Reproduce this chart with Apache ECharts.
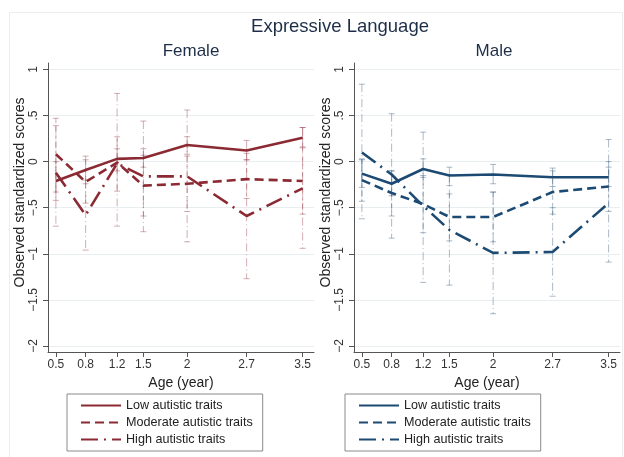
<!DOCTYPE html>
<html>
<head>
<meta charset="utf-8">
<script src="https://cdn.jsdelivr.net/npm/echarts@6/dist/echarts.min.js"></script>
<style>
  html, body { margin: 0; padding: 0; background: #fff; }
  #chart { width: 624px; height: 457px; }
</style>
</head>
<body>
<div id="chart"></div>
<script>
// x positions of the measurement waves and the labels printed under them
const ageLabels = ['0.5', '0.8', '1.2', '1.5', '2', '2.7', '3.5'];
const ageX = [0.5, 0.84, 1.2, 1.5, 2, 2.68, 3.32];
const yTicks = [-2, -1.5, -1, -0.5, 0, 0.5, 1];
const traitNames = ['Low autistic traits', 'Moderate autistic traits', 'High autistic traits'];

// Female: means and 95% CI
const femaleLow = [-0.21, -0.09, 0.03, 0.04, 0.18, 0.12, 0.26];
const femaleMod = [0.08, -0.22, -0.01, -0.26, -0.24, -0.19, -0.21];
const femaleHigh = [-0.12, -0.58, -0.02, -0.16, -0.16, -0.59, -0.29];
const femaleLowLo = [-0.42, -0.24, -0.10, -0.06, 0.08, 0.02, 0.16];
const femaleLowHi = [0.00, 0.06, 0.14, 0.14, 0.27, 0.23, 0.37];
const femaleModLo = [-0.33, -0.45, -0.32, -0.59, -0.54, -0.40, -0.57];
const femaleModHi = [0.47, 0.02, 0.27, 0.07, 0.06, 0.02, 0.15];
const femaleHighLo = [-0.70, -0.96, -0.70, -0.76, -0.87, -1.27, -0.94];
const femaleHighHi = [0.39, -0.20, 0.74, 0.44, 0.56, 0.09, 0.37];

// Male: means and 95% CI
const maleLow = [-0.13, -0.24, -0.08, -0.15, -0.14, -0.17, -0.17];
const maleMod = [-0.20, -0.34, -0.46, -0.60, -0.60, -0.33, -0.27];
const maleHigh = [0.10, -0.14, -0.48, -0.74, -0.99, -0.98, -0.45];
const maleLowLo = [-0.28, -0.37, -0.17, -0.26, -0.24, -0.27, -0.27];
const maleLowHi = [0.02, -0.10, 0.03, -0.06, -0.03, -0.07, -0.06];
const maleModLo = [-0.43, -0.59, -0.77, -0.86, -0.87, -0.57, -0.54];
const maleModHi = [0.03, -0.10, -0.15, -0.35, -0.33, -0.10, 0.00];
const maleHighLo = [-0.62, -0.83, -1.31, -1.34, -1.65, -1.46, -1.09];
const maleHighHi = [0.84, 0.52, 0.32, -0.14, -0.33, -0.50, 0.24];

const FONT = 'Liberation Sans, Arial, sans-serif';
const femaleColor = '#8c2a33';
const maleColor = '#1d4a73';
const femaleCi = 'rgba(150, 60, 72, 0.42)';
const maleCi = 'rgba(45, 80, 115, 0.4)';

// line patterns: solid, dashed, dash-dot
const dashes = ['solid', [9, 5], [17, 6, 2, 6]];
const ciDashes = [null, [5, 3], [8, 3, 1, 3]];

const pts = vals => ageX.map((x, i) => [x, vals[i]]);

function lineSeries(name, vals, color, k, idx) {
  return {
    name: name,
    type: 'line',
    xAxisIndex: idx,
    yAxisIndex: idx,
    data: pts(vals),
    symbol: 'none',
    z: 3,
    lineStyle: { color: color, width: 2.6, type: dashes[k] },
    itemStyle: { color: color }
  };
}

// error bars (rcap) drawn through the axis scales
function ciSeries(lo, hi, color, k, idx) {
  return {
    type: 'custom',
    xAxisIndex: idx,
    yAxisIndex: idx,
    z: 1,
    silent: true,
    data: ageX.map((x, i) => [x, lo[i], hi[i]]),
    encode: { x: 0, y: [1, 2] },
    renderItem: function (params, api) {
      const x = api.value(0);
      const top = api.coord([x, api.value(2)]);
      const bot = api.coord([x, api.value(1)]);
      const cw = 3;
      const stem = { stroke: color, lineWidth: 1, lineDash: ciDashes[k] };
      const cap = { stroke: color, lineWidth: 1 };
      return {
        type: 'group',
        children: [
          { type: 'line', shape: { x1: top[0], y1: top[1], x2: bot[0], y2: bot[1] }, style: stem },
          { type: 'line', shape: { x1: top[0] - cw, y1: top[1], x2: top[0] + cw, y2: top[1] }, style: cap },
          { type: 'line', shape: { x1: bot[0] - cw, y1: bot[1], x2: bot[0] + cw, y2: bot[1] }, style: cap }
        ]
      };
    }
  };
}

function xAxisFor(idx) {
  return {
    type: 'value',
    gridIndex: idx,
    min: 0.41,
    max: 3.45,
    name: 'Age (year)',
    nameLocation: 'middle',
    nameGap: 24,
    nameTextStyle: { fontFamily: FONT, fontSize: 14, color: '#222' },
    axisLine: { show: true, onZero: false, lineStyle: { color: '#555', width: 1 } },
    axisTick: { show: true, length: 5, customValues: ageX, lineStyle: { color: '#555' } },
    axisLabel: {
      customValues: ageX,
      margin: 7,
      fontFamily: FONT,
      fontSize: 12,
      color: '#333',
      formatter: v => ageLabels[ageX.indexOf(v)]
    },
    splitLine: { show: false }
  };
}

function yAxisFor(idx) {
  return {
    type: 'value',
    gridIndex: idx,
    min: -2.065,
    max: 1.07,
    name: 'Observed standardized scores',
    nameLocation: 'middle',
    nameGap: 21,
    nameTextStyle: { fontFamily: FONT, fontSize: 14, color: '#222', padding: [0, 0, 0, 30] },
    axisLine: { show: true, onZero: false, lineStyle: { color: '#555', width: 1 } },
    axisTick: { show: true, length: 5, customValues: yTicks, lineStyle: { color: '#555' } },
    axisLabel: {
      customValues: yTicks,
      rotate: 90,
      margin: 8,
      fontFamily: FONT,
      fontSize: 12,
      color: '#333',
      formatter: function (v) {
        if (v === 0) return '0';
        const s = String(Math.abs(v)).replace(/^0/, '');
        return (v < 0 ? '\u2212' : '') + s;
      }
    },
    splitLine: { show: true, lineStyle: { color: '#e8eef0', width: 1 } }
  };
}

function legendFor(prefix, left) {
  return {
    orient: 'vertical',
    left: left,
    top: 394,
    itemWidth: 40,
    itemHeight: 14,
    itemGap: 4,
    padding: [5, 10, 5, 13],
    borderColor: '#8a8a8a',
    borderWidth: 1,
    selectedMode: false,
    itemStyle: { opacity: 0 },
    data: traitNames.map(n => prefix + n),
    formatter: name => name.slice(prefix.length),
    textStyle: { fontFamily: FONT, fontSize: 12.6, color: '#222' }
  };
}

const femaleVals = [femaleLow, femaleMod, femaleHigh];
const femaleLo = [femaleLowLo, femaleModLo, femaleHighLo];
const femaleHi = [femaleLowHi, femaleModHi, femaleHighHi];
const maleVals = [maleLow, maleMod, maleHigh];
const maleLo = [maleLowLo, maleModLo, maleHighLo];
const maleHi = [maleLowHi, maleModHi, maleHighHi];

const series = [];
for (let k = 0; k < 3; k++) {
  series.push(ciSeries(femaleLo[k], femaleHi[k], femaleCi, k, 0));
  series.push(ciSeries(maleLo[k], maleHi[k], maleCi, k, 1));
}
for (let k = 0; k < 3; k++) {
  series.push(lineSeries('F:' + traitNames[k], femaleVals[k], femaleColor, k, 0));
  series.push(lineSeries('M:' + traitNames[k], maleVals[k], maleColor, k, 1));
}

const chart = echarts.init(document.getElementById('chart'), null, { renderer: 'canvas' });

chart.setOption({
  animation: false,
  backgroundColor: '#fff',
  title: [
    { text: 'Expressive Language', left: 335, top: 12, textAlign: 'center',
      textStyle: { fontFamily: FONT, fontSize: 18.5, fontWeight: 'normal', color: '#1e2e48' } },
    { text: 'Female', left: 186, top: 38, textAlign: 'center',
      textStyle: { fontFamily: FONT, fontSize: 17, fontWeight: 'normal', color: '#1e2e48' } },
    { text: 'Male', left: 489, top: 38, textAlign: 'center',
      textStyle: { fontFamily: FONT, fontSize: 17, fontWeight: 'normal', color: '#1e2e48' } }
  ],
  graphic: [
    { type: 'rect', left: 7, top: 10, shape: { width: 613, height: 445 },
      style: { fill: 'none', stroke: '#ededed', lineWidth: 1 }, z: -1 }
  ],
  legend: [legendFor('F:', 67), legendFor('M:', 345)],
  grid: [
    { left: 48, top: 63, width: 266, height: 289 },
    { left: 354, top: 63, width: 266, height: 289 }
  ],
  xAxis: [xAxisFor(0), xAxisFor(1)],
  yAxis: [yAxisFor(0), yAxisFor(1)],
  series: series
});
</script>
</body>
</html>
